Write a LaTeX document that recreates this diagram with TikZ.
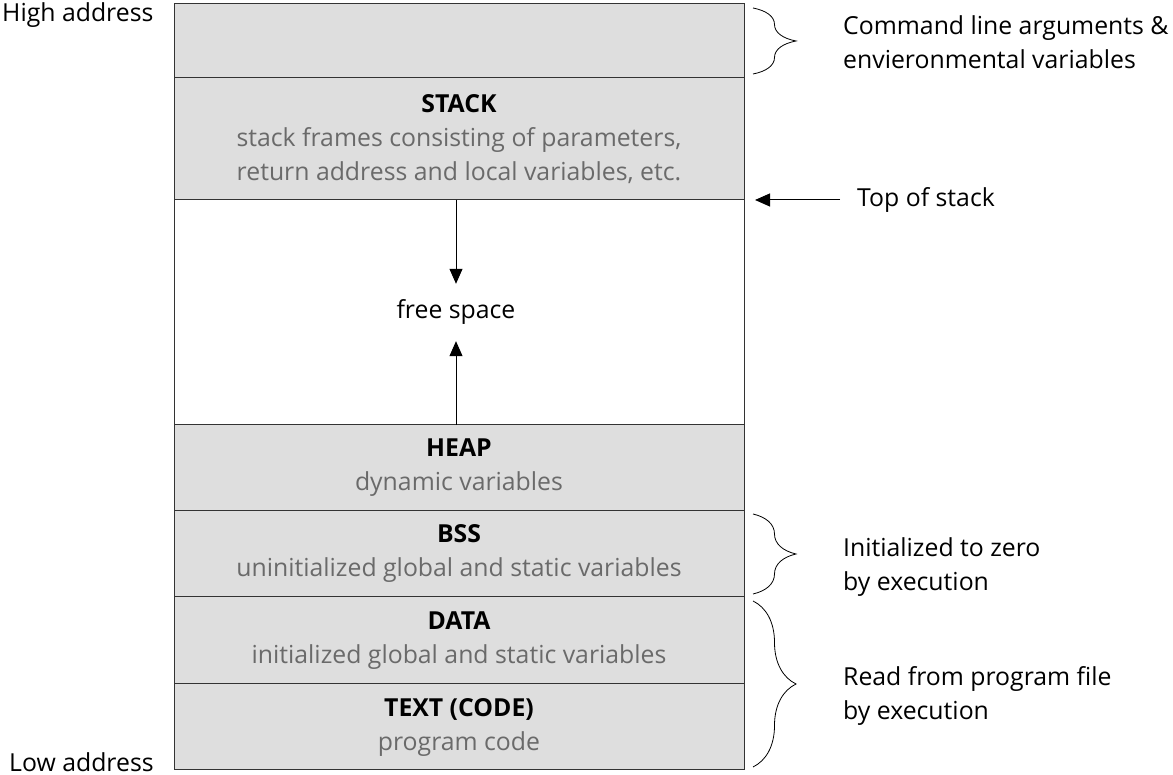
\documentclass[tikz,border=0pt]{standalone}
\usepackage{fontspec}
\setmainfont{Open Sans}
\usepackage{tikz}
\usetikzlibrary{positioning,calc,arrows.meta,decorations.pathreplacing}
\definecolor{segfill}{HTML}{DEDEDE}
\definecolor{segtext}{HTML}{6A6A6A}
\newcommand{\segnote}[1]{\textcolor{segtext}{#1}}

\begin{document}
\begin{tikzpicture}[x=1pt,y=1pt,font={\fontsize{24.8}{34}\selectfont},
  seg/.style={draw=black!80,line width=1pt,fill=segfill,minimum width=570pt,align=center,inner sep=0pt,outer sep=0pt},
  brc/.style={decorate,decoration={brace,amplitude=43pt},line width=0.8pt},
  arr/.style={-{Triangle[length=15pt,width=13pt]},line width=1pt}]
\useasboundingbox (0,0) rectangle (1173,775);
\node[seg,minimum height=74pt,anchor=north west] (env) at (174,771) {};
\node[seg,minimum height=122pt,below=0pt of env] (stack) {\textbf{STACK}\\\segnote{stack frames consisting of parameters,}\\\segnote{return address and local variables, etc.}};
\node[seg,minimum height=225pt,fill=white,below=0pt of stack] (free) {};
\node[seg,minimum height=86pt,below=0pt of free] (heap) {\textbf{HEAP}\\\segnote{dynamic variables}};
\node[seg,minimum height=86pt,below=0pt of heap] (bss) {\textbf{BSS}\\\segnote{uninitialized global and static variables}};
\node[seg,minimum height=87pt,below=0pt of bss] (data) {\textbf{DATA}\\\segnote{initialized global and static variables}};
\node[seg,minimum height=86pt,below=0pt of data] (text) {\textbf{TEXT (CODE)}\\\segnote{program code}};
\node[minimum height=57pt,inner sep=0pt] (freetxt) at ([xshift=-3pt]free.center) {free space};
\draw[arr] (freetxt.north |- stack.south) -- (freetxt.north);
\draw[arr] (freetxt.south |- heap.north) -- (freetxt.south);
\node[anchor=west,inner sep=0pt] (high) at (2,760) {High address};
\node[anchor=west,inner sep=0pt] (low) at (9,13) {Low address};
\draw[brc] ($(env.north east)+(9,-4)$) -- ($(env.south east)+(9,4)$);
\draw[brc] ($(bss.north east)+(9,-3)$) -- ($(bss.south east)+(9,3)$);
\draw[brc] ($(data.north east)+(9,-4)$) -- ($(text.south east)+(9,3)$);
\node[anchor=west,align=left,inner sep=0pt] (args) at (843,733) {Command line arguments \&\\envieronmental variables};
\node[anchor=west,align=left,inner sep=0pt] (zero) at (843,208) {Initialized to zero\\by execution};
\node[anchor=west,align=left,inner sep=0pt] (prog) at (843,79) {Read from program file\\by execution};
\node[anchor=west,inner sep=0pt] (tos) at (857,575) {Top of stack};
\coordinate (tostip) at ($(stack.south east)+(11,0)$);
\draw[arr] ([xshift=-17pt]tos.west) -- (tostip);
\end{tikzpicture}
\end{document}
